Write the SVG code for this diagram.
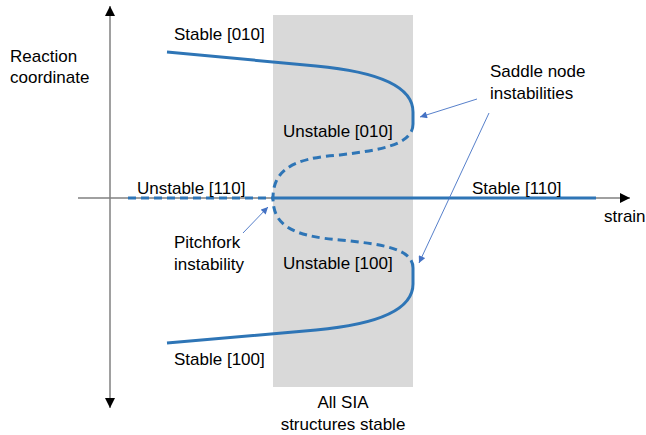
<svg xmlns="http://www.w3.org/2000/svg" width="646" height="435" viewBox="0 0 646 435">
<style>
text{font-family:"Liberation Sans",Arial,sans-serif;font-size:17px;fill:#000}
.axis{stroke:#808080;stroke-width:1.5;fill:none}
.curve{stroke:#2E75B6;stroke-width:3;fill:none}
.dash{stroke-dasharray:8 5}
.ptr{stroke:#4472C4;stroke-width:0.9;fill:none;marker-end:url(#ph)}
</style>
<defs>
<marker id="ah" viewBox="0 0 10 10" refX="10" refY="5" markerWidth="10" markerHeight="10" markerUnits="userSpaceOnUse" orient="auto"><path d="M0,0 L10,5 L0,10 Z" fill="#000"/></marker>
<marker id="ph" viewBox="0 0 10 10" refX="10" refY="5" markerWidth="8" markerHeight="7" markerUnits="userSpaceOnUse" orient="auto"><path d="M0,0 L10,5 L0,10 Z" fill="#4472C4"/></marker>
</defs>
<rect id="stable-region" x="273" y="15" width="140" height="372" fill="#D9D9D9"/>
<g id="axes">
<line class="axis" x1="110" y1="198" x2="110" y2="6" marker-end="url(#ah)"/>
<line class="axis" x1="110" y1="198" x2="110" y2="408" marker-end="url(#ah)"/>
<line class="axis" x1="78" y1="198" x2="630" y2="198" marker-end="url(#ah)"/>
</g>
<g id="connectors">
<line class="curve dash" x1="128" y1="198" x2="273" y2="198"/>
<line class="curve" x1="273" y1="198" x2="596" y2="198"/>
<path class="curve" d="M167,52 L316,66 C370,71 413,84 413,112 L413,124"/>
<path class="curve dash" d="M413,124 C413,145 380,150 340,155 C290,158 273,172 273,198"/>
<path class="curve" d="M167,343 L316,330 C370,325 413,312 413,284 L413,268"/>
<path class="curve dash" d="M413,268 C413,248 380,244 340,240 C290,236 273,224 273,198"/>
<line class="ptr" x1="243" y1="233" x2="268" y2="207"/>
<line class="ptr" x1="477" y1="99" x2="420" y2="117"/>
<line class="ptr" x1="489" y1="113" x2="419" y2="263"/>
</g>
<g id="labels">
<text x="10" y="62">Reaction</text>
<text x="10" y="83">coordinate</text>
<text x="174" y="40">Stable [010]</text>
<text x="283" y="137">Unstable [010]</text>
<text x="137" y="194">Unstable [110]</text>
<text x="472" y="194">Stable [110]</text>
<text x="604" y="222">strain</text>
<text x="490" y="77">Saddle node</text>
<text x="490" y="99">instabilities</text>
<text x="174" y="248">Pitchfork</text>
<text x="174" y="270">instability</text>
<text x="283" y="269">Unstable [100]</text>
<text x="174" y="365">Stable [100]</text>
<text x="343" y="408" text-anchor="middle">All SIA</text>
<text x="343" y="430" text-anchor="middle">structures stable</text>
</g>
</svg>
